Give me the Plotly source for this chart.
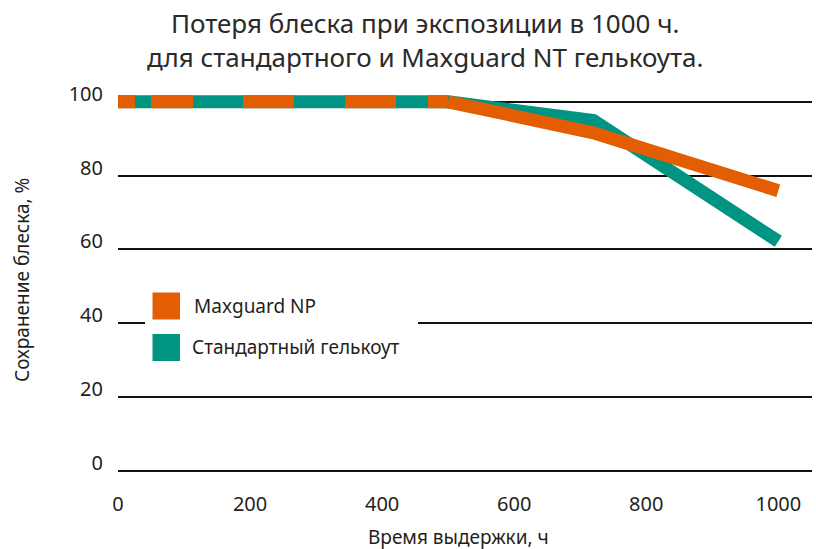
import plotly.graph_objects as go

# ---- data ----
hours = [0, 500, 720, 1000]
maxguard_np = [100, 100, 91.6, 75.9]
standard_gelcoat = [100, 100, 94.9, 62.2]

x_ticks = [0, 200, 400, 600, 800, 1000]
y_ticks = [0, 20, 40, 60, 80, 100]

title_text = "Потеря блеска при экспозиции в 1000 ч.<br>для стандартного и Maxguard NT гелькоута."
x_title = "Время выдержки, ч"
y_title = "Сохранение блеска, %"
legend_names = ["Maxguard NP", "Стандартный гелькоут"]

ORANGE = "#E35D02"
TEAL = "#009482"
TXT = "#231F20"
FONT = "Noto Sans"

W, H = 816, 549
ML, MR, MT, MB = 118, 4, 87, 77
PW, PH = W - ML - MR, H - MT - MB


def px(xp):
    return (xp - ML) / PW


def py(yp):
    return (H - MB - yp) / PH


fig = go.Figure()

# teal line (solid, underneath)
fig.add_trace(go.Scatter(x=hours, y=standard_gelcoat, mode="lines",
                         line=dict(color=TEAL, width=13), showlegend=False,
                         name=legend_names[1]))
# orange dashed part over the shared plateau
fig.add_trace(go.Scatter(x=hours[:2], y=maxguard_np[:2], mode="lines",
                         line=dict(color=ORANGE, width=13,
                                   dash="17px,16px,42px,50px,51px,51px,51px,32px,300px"),
                         showlegend=False, name=legend_names[0]))
# orange solid part
fig.add_trace(go.Scatter(x=hours[1:], y=maxguard_np[1:], mode="lines",
                         line=dict(color=ORANGE, width=13),
                         showlegend=False, name=legend_names[0]))

shapes = [
    # white legend background breaking the gridline
    dict(type="rect", xref="paper", yref="paper", x0=px(145), x1=px(418),
         y0=py(372), y1=py(284), fillcolor="white", line=dict(width=0), layer="above"),
    dict(type="rect", xref="paper", yref="paper", x0=px(152.5), x1=px(180),
         y0=py(319.5), y1=py(292.5), fillcolor=ORANGE, line=dict(width=0), layer="above"),
    dict(type="rect", xref="paper", yref="paper", x0=px(152.5), x1=px(180),
         y0=py(361), y1=py(334), fillcolor=TEAL, line=dict(width=0), layer="above"),
]

LBL = 19
annotations = [
    dict(text=title_text, xref="paper", yref="paper", x=px(425), y=py(40),
         xanchor="center", yanchor="middle", showarrow=False,
         font=dict(family=FONT, size=26, color="#2a2a2a")),
    dict(text=legend_names[0], xref="paper", yref="paper", x=px(192), y=py(306),
         xanchor="left", yanchor="middle", showarrow=False,
         font=dict(family=FONT, size=LBL, color=TXT)),
    dict(text=legend_names[1], xref="paper", yref="paper", x=px(190), y=py(347),
         xanchor="left", yanchor="middle", showarrow=False,
         font=dict(family=FONT, size=LBL, color=TXT)),
    dict(text=x_title, xref="paper", yref="paper", x=px(458), y=py(537),
         xanchor="center", yanchor="middle", showarrow=False,
         font=dict(family=FONT, size=LBL, color=TXT)),
    dict(text=y_title, xref="paper", yref="paper", x=px(22), y=py(280),
         xanchor="center", yanchor="middle", showarrow=False, textangle=-90,
         font=dict(family=FONT, size=LBL, color=TXT)),
]

fig.update_layout(
    width=W, height=H,
    margin=dict(l=ML, r=MR, t=MT, b=MB),
    paper_bgcolor="white", plot_bgcolor="white",
    font=dict(family=FONT, color=TXT),
    xaxis=dict(range=[0, 1051], tickvals=x_ticks, ticktext=[str(v) for v in x_ticks],
               showgrid=False, zeroline=False, showline=False, ticks="",
               ticklabelstandoff=18, tickfont=dict(family=FONT, size=20, color=TXT)),
    yaxis=dict(range=[-0.3, 104], tickvals=y_ticks, ticktext=[str(v) for v in y_ticks],
               showgrid=True, gridcolor="#111111", gridwidth=2, zeroline=False,
               showline=False, ticks="", ticklabelstandoff=14, ticklabelshift=-8,
               tickfont=dict(family=FONT, size=20, color=TXT)),
    shapes=shapes, annotations=annotations, showlegend=False,
)

fig.write_html("out.html", config={"displayModeBar": False},
               post_script="document.body.style.margin='0';")
